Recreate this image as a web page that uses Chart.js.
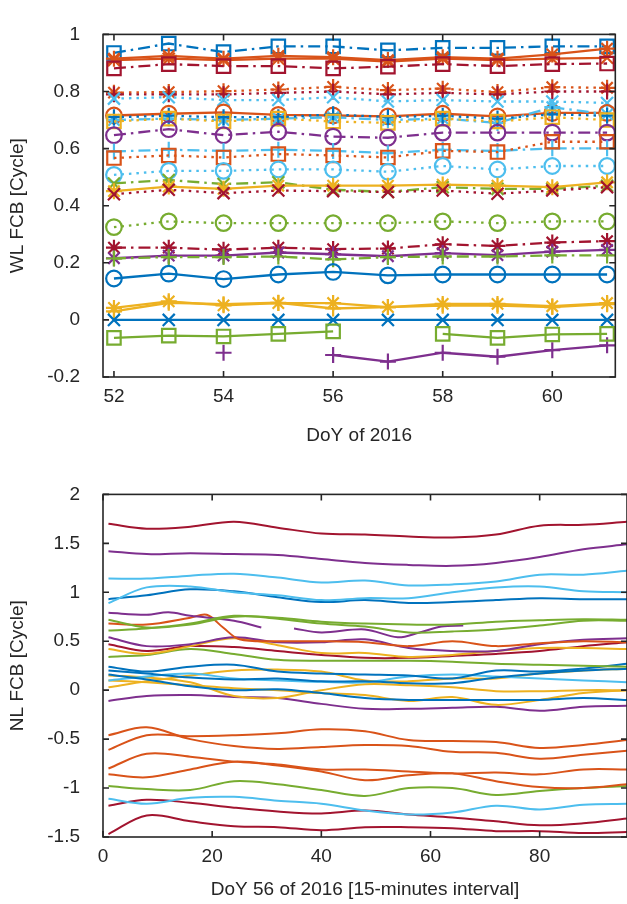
<!DOCTYPE html>
<html>
<head>
<meta charset="utf-8">
<script src="https://cdn.jsdelivr.net/npm/chart.js@4"></script>
<style>
body{margin:0;background:#fff;}
#wrap{position:relative;width:627px;height:904px;}
canvas{position:absolute;left:0;}
</style>
</head>
<body>
<div id="wrap">
<canvas id="wl" width="627" height="460" style="top:0"></canvas>
<canvas id="nl" width="627" height="444" style="top:460px"></canvas>
</div>
<script>
// ---- top plot: wide-lane FCB, one value per day ----
const doy = [52,53,54,55,56,57,58,59,60,61];
const wlTicksX = [52,54,56,58,60];
const wlTicksY = [-0.2,0,0.2,0.4,0.6,0.8,1];

const wlBlueSq    = [0.935,0.968,0.938,0.958,0.958,0.944,0.953,0.953,0.958,0.958];
const wlOrangeStar= [0.915,0.925,0.915,0.925,0.92,0.91,0.92,0.915,0.93,0.95];
const wlOrangeX   = [0.91,0.915,0.91,0.915,0.915,0.905,0.915,0.91,0.915,0.918];
const wlRedSq     = [0.881,0.896,0.889,0.889,0.881,0.887,0.896,0.889,0.896,0.898];
const wlOrangeStarDot = [0.796,0.798,0.801,0.807,0.816,0.805,0.81,0.798,0.815,0.813];
const wlRedPlus   = [0.79,0.79,0.79,0.795,0.8,0.79,0.795,0.79,0.8,0.8];
const wlCyanX     = [0.775,0.78,0.77,0.77,0.78,0.765,0.77,0.765,0.765,0.76];
const wlOrangeO   = [0.716,0.722,0.727,0.718,0.716,0.713,0.722,0.713,0.725,0.725];
const wlBluePlus  = [0.71,0.715,0.71,0.71,0.72,0.71,0.715,0.705,0.72,0.715];
const wlYellowSq  = [0.695,0.705,0.695,0.705,0.695,0.69,0.705,0.695,0.71,0.7];
const wlCyanStar  = [0.70,0.705,0.70,0.705,0.71,0.70,0.705,0.69,0.745,0.72];
const wlPurpleO   = [0.647,0.668,0.647,0.659,0.642,0.638,0.656,0.656,0.656,0.656];
const wlCyanPlus  = [0.59,0.596,0.592,0.596,0.592,0.584,0.596,0.592,0.601,0.601];
const wlOrangeSq  = [0.567,0.576,0.569,0.581,0.576,0.569,0.592,0.588,0.624,0.624];
const wlCyanO     = [0.508,0.522,0.522,0.527,0.527,0.519,0.539,0.527,0.539,0.539];
const wlGreenX    = [0.478,0.49,0.476,0.482,0.456,0.448,0.465,0.459,0.459,0.47];
const wlYellowStar= [0.451,0.467,0.459,0.47,0.47,0.47,0.474,0.47,0.465,0.482];
const wlRedX      = [0.44,0.456,0.444,0.453,0.451,0.448,0.453,0.442,0.453,0.465];
const wlGreenO    = [0.325,0.345,0.339,0.339,0.339,0.339,0.345,0.339,0.345,0.345];
const wlRedStar   = [0.253,0.253,0.246,0.253,0.248,0.25,0.265,0.259,0.271,0.276];
const wlPurpleStar= [0.216,0.225,0.225,0.236,0.23,0.223,0.234,0.227,0.239,0.245];
const wlGreenPlus = [0.215,0.22,0.22,0.222,0.212,0.22,0.222,0.222,0.226,0.226];
const wlBlueO     = [0.145,0.162,0.143,0.159,0.168,0.156,0.159,0.159,0.159,0.159];
const wlYellowStar2=[0.042,0.065,0.051,0.059,0.059,0.045,0.056,0.056,0.048,0.059];
const wlYellowPlus= [0.03,0.06,0.055,0.06,0.04,0.045,0.05,0.05,0.045,0.055];
const wlBlueX     = [0,0,0,0,0,0,0,0,0,0];
const wlGreenSq   = [-0.063,-0.055,-0.058,-0.049,-0.04,null,-0.049,-0.063,-0.051,-0.049];
const wlPurplePlus= [null,null,-0.115,null,-0.123,-0.146,-0.115,-0.129,-0.106,-0.089];

// ---- bottom plot: narrow-lane FCB, 15 minute epochs ----
const epoch = [1,8,16,24,32,40,48,56,64,72,80,88,96];
const epochDrop = [1,8,16,19,22,25,32,40,48,56,64,72,80,88,96];
const epochGap = [1,8,12,16,24,29,32,35,40,48,54,58,62,66];
const nlTicksX = [0,20,40,60,80];
const nlTicksY = [-1.5,-1,-0.5,0,0.5,1,1.5,2];

const nlRed1    = [1.70,1.65,1.67,1.72,1.66,1.60,1.59,1.57,1.56,1.59,1.68,1.69,1.72];
const nlPurple1 = [1.42,1.39,1.40,1.39,1.38,1.34,1.30,1.28,1.27,1.30,1.36,1.44,1.49];
const nlCyan1   = [1.14,1.14,1.17,1.19,1.15,1.10,1.12,1.07,1.08,1.11,1.18,1.18,1.22];
const nlCyan2   = [0.89,1.05,1.06,1.00,0.97,0.92,0.94,0.94,1.00,1.05,1.06,1.01,1.00];
const nlBlue1   = [0.93,0.97,1.03,1.01,0.95,0.90,0.92,0.89,0.90,0.92,0.94,0.93,0.93];
const nlGreenA  = [0.72,0.64,0.67,0.75,0.74,0.70,0.68,0.67,0.67,0.70,0.715,0.725,0.72];
const nlGreenB  = [0.61,0.63,0.68,0.76,0.73,0.68,0.65,0.59,0.60,0.62,0.66,0.71,0.71];
const nlPurpleGap = [0.79,0.77,0.795,0.76,0.71,0.64,null,0.63,0.59,0.62,0.54,0.59,0.65,0.66];
const nlOrangeDrop = [0.68,0.67,0.74,0.77,0.64,0.52,0.50,0.50,0.49,0.45,0.50,0.45,0.48,0.50,0.49];
const nlPurple2 = [0.54,0.45,0.47,0.54,0.49,0.49,0.52,0.43,0.40,0.40,0.47,0.515,0.53];
const nlYellow1 = [0.42,0.37,0.45,0.53,0.46,0.38,0.38,0.34,0.36,0.40,0.43,0.43,0.42];
const nlRed2    = [0.47,0.40,0.45,0.44,0.40,0.36,0.33,0.33,0.35,0.37,0.40,0.45,0.49];
const nlGreenC  = [0.34,0.36,0.42,0.37,0.31,0.30,0.30,0.30,0.29,0.27,0.26,0.25,0.24];
const nlBlue2   = [0.24,0.19,0.24,0.26,0.19,0.17,0.16,0.15,0.12,0.20,0.19,0.22,0.27];
const nlBlue3   = [0.20,0.17,0.13,0.11,0.12,0.09,0.09,0.07,0.07,0.13,0.17,0.20,0.22];
const nlBlue4   = [0.16,0.11,0.04,0.00,0.01,-0.03,-0.08,-0.10,-0.10,-0.10,-0.10,-0.08,-0.10];
const nlCyan3   = [0.10,0.14,0.17,0.12,0.10,0.085,0.08,0.14,0.16,0.14,0.12,0.10,0.08];
const nlYellow2 = [0.03,0.09,0.15,0.20,0.21,0.19,0.10,0.09,0.12,0.12,0.17,0.20,0.22];
const nlYellow3 = [0.15,0.13,0.08,-0.06,-0.08,0.00,0.06,0.05,0.03,-0.01,-0.01,0.00,0.00];
const nlYellow4 = [0.10,0.08,0.05,0.02,0.00,-0.03,-0.05,-0.11,-0.07,-0.15,-0.10,-0.03,0.00];
const nlPurple3 = [-0.11,-0.06,-0.05,-0.07,-0.08,-0.14,-0.19,-0.19,-0.18,-0.17,-0.21,-0.17,-0.16];
const nlOrangeA = [-0.46,-0.38,-0.50,-0.57,-0.60,-0.58,-0.56,-0.57,-0.63,-0.64,-0.70,-0.66,-0.62];
const nlOrangeB = [-0.61,-0.46,-0.47,-0.46,-0.44,-0.40,-0.42,-0.51,-0.52,-0.53,-0.59,-0.56,-0.51];
const nlOrangeC = [-0.80,-0.65,-0.68,-0.73,-0.76,-0.81,-0.81,-0.83,-0.85,-0.84,-0.86,-0.81,-0.81];
const nlOrangeD = [-0.86,-0.89,-0.81,-0.73,-0.77,-0.83,-0.92,-0.87,-0.85,-0.93,-0.99,-1.00,-0.96];
const nlGreenD  = [-0.98,-1.01,-1.02,-0.93,-0.96,-1.02,-1.08,-1.00,-1.00,-1.07,-1.03,-1.00,-0.98];
const nlCyan4   = [-1.11,-1.16,-1.10,-1.09,-1.13,-1.16,-1.23,-1.27,-1.25,-1.18,-1.22,-1.17,-1.16];
const nlRed3    = [-1.18,-1.12,-1.15,-1.20,-1.24,-1.26,-1.23,-1.27,-1.30,-1.34,-1.38,-1.36,-1.31];
const nlRed4    = [-1.47,-1.28,-1.34,-1.39,-1.40,-1.43,-1.40,-1.40,-1.41,-1.44,-1.44,-1.46,-1.45];

// matlab colours
const blue='#0072BD', orange='#D95319', yellow='#EDB120', purple='#7E2F8E',
      green='#77AC30', cyan='#4DBEEE', red='#A2142F';
const SOLID=[], DOT=[2.5,5], DASHDOT=[12,5,2.5,5];
const radius = {rect:9.5, circle:7.8, cross:8, crossRot:8.5, star:8};
const ink = '#262626';
const font = {family:'"Liberation Sans", Arial, Helvetica, sans-serif', size:19};

// [values, colour, marker, dash]
const wlStyle = [
  [wlGreenSq, green,'rect',SOLID],
  [wlPurplePlus, purple,'cross',SOLID],
  [wlBlueX, blue,'crossRot',SOLID],
  [wlYellowPlus, yellow,'cross',SOLID],
  [wlYellowStar2, yellow,'star',SOLID],
  [wlBlueO, blue,'circle',SOLID],
  [wlGreenPlus, green,'cross',DASHDOT],
  [wlPurpleStar, purple,'star',SOLID],
  [wlRedStar, red,'star',DASHDOT],
  [wlGreenO, green,'circle',DOT],
  [wlRedX, red,'crossRot',DOT],
  [wlYellowStar, yellow,'star',SOLID],
  [wlGreenX, green,'crossRot',DASHDOT],
  [wlCyanO, cyan,'circle',DOT],
  [wlOrangeSq, orange,'rect',DOT],
  [wlCyanPlus, cyan,'cross',DASHDOT],
  [wlPurpleO, purple,'circle',DASHDOT],
  [wlYellowSq, yellow,'rect',DOT],
  [wlBluePlus, blue,'cross',DOT],
  [wlCyanStar, cyan,'star',DASHDOT],
  [wlOrangeO, orange,'circle',SOLID],
  [wlCyanX, cyan,'crossRot',DOT],
  [wlRedPlus, red,'cross',DOT],
  [wlOrangeStarDot, orange,'star',DOT],
  [wlRedSq, red,'rect',DASHDOT],
  [wlOrangeX, orange,'crossRot',SOLID],
  [wlOrangeStar, orange,'star',SOLID],
  [wlBlueSq, blue,'rect',DASHDOT]
];

// [x values, y values, colour]
const nlStyle = [
  [epoch,nlRed1,red],[epoch,nlPurple1,purple],[epoch,nlCyan1,cyan],[epoch,nlCyan2,cyan],
  [epoch,nlBlue1,blue],[epoch,nlGreenA,green],[epoch,nlGreenB,green],[epochGap,nlPurpleGap,purple],
  [epochDrop,nlOrangeDrop,orange],[epoch,nlPurple2,purple],[epoch,nlYellow1,yellow],[epoch,nlRed2,red],
  [epoch,nlGreenC,green],[epoch,nlBlue2,blue],[epoch,nlBlue3,blue],[epoch,nlBlue4,blue],
  [epoch,nlCyan3,cyan],[epoch,nlYellow2,yellow],[epoch,nlYellow3,yellow],[epoch,nlYellow4,yellow],
  [epoch,nlPurple3,purple],[epoch,nlOrangeA,orange],[epoch,nlOrangeB,orange],[epoch,nlOrangeC,orange],
  [epoch,nlOrangeD,orange],[epoch,nlGreenD,green],[epoch,nlCyan4,cyan],[epoch,nlRed3,red],[epoch,nlRed4,red]
];

// box + inward ticks on all four sides
const frame = {
  id:'frame',
  afterDatasetsDraw(chart){
    const {ctx, chartArea:a, scales:{x,y}} = chart;
    ctx.save();
    ctx.strokeStyle = ink;
    ctx.lineWidth = 1.6;
    ctx.strokeRect(a.left, a.top, a.right-a.left, a.bottom-a.top);
    ctx.beginPath();
    x.ticks.forEach(t=>{
      const p = x.getPixelForValue(t.value);
      ctx.moveTo(p,a.bottom); ctx.lineTo(p,a.bottom-6);
      ctx.moveTo(p,a.top); ctx.lineTo(p,a.top+6);
    });
    y.ticks.forEach(t=>{
      const p = y.getPixelForValue(t.value);
      ctx.moveTo(a.left,p); ctx.lineTo(a.left+6,p);
      ctx.moveTo(a.right,p); ctx.lineTo(a.right-6,p);
    });
    ctx.stroke();
    ctx.restore();
  }
};

function axes(xr, yr, xt, yt, xTitle, yTitle, xHeight, xPad){
  return {
    x:{type:'linear', min:xr[0], max:xr[1],
       grid:{display:false, drawTicks:false}, border:{display:false},
       afterBuildTicks:s=>{ s.ticks = xt.map(v=>({value:v})); },
       afterFit:s=>{ s.height = xHeight; },
       ticks:{padding:8, color:ink, font, maxRotation:0, callback:v=>String(v)},
       title:{display:true, text:xTitle, color:ink, font, padding:{top:0,bottom:xPad}}},
    y:{type:'linear', min:yr[0], max:yr[1],
       grid:{display:false, drawTicks:false}, border:{display:false},
       afterBuildTicks:s=>{ s.ticks = yt.map(v=>({value:v})); },
       afterFit:s=>{ s.width = 103; },
       ticks:{padding:23, color:ink, font, callback:v=>String(+(+v).toFixed(2))},
       title:{display:true, text:yTitle, color:ink, font, padding:{top:6.6,bottom:0}}}
  };
}

const common = {
  responsive:false, animation:false, devicePixelRatio:1,
  plugins:{legend:{display:false}, tooltip:{enabled:false}},
  elements:{line:{tension:0}}
};

new Chart(document.getElementById('wl'), {
  type:'line',
  data:{datasets: wlStyle.map(([vals,c,mk,dash])=>({
    data: doy.map((d,i)=>({x:d, y:vals[i]})),
    borderColor:c, borderWidth:2.3, borderDash:dash,
    pointStyle:mk, pointRadius:radius[mk], pointBorderWidth:2.2,
    pointBorderColor:c, pointBackgroundColor:'rgba(0,0,0,0)',
    spanGaps:false, fill:false
  }))},
  options:Object.assign({}, common, {
    layout:{padding:{top:27, right:2, left:0, bottom:0}},
    scales: axes([51.8,61.15],[-0.2,1], wlTicksX, wlTicksY, 'DoY of 2016', 'WL FCB [Cycle]', 83, 12.6)
  }),
  plugins:[frame]
});

new Chart(document.getElementById('nl'), {
  type:'line',
  data:{datasets: nlStyle.map(([xs,vals,c])=>({
    data: xs.map((t,i)=>({x:t, y:vals[i]})),
    borderColor:c, borderWidth:2, pointRadius:0,
    tension:0.35, spanGaps:false, fill:false
  }))},
  options:Object.assign({}, common, {
    layout:{padding:{top:27, right:0, left:0, bottom:0}},
    scales: axes([0,96],[-1.5,2], nlTicksX, nlTicksY, 'DoY 56 of 2016 [15-minutes interval]', 'NL FCB [Cycle]', 67, 2.6)
  }),
  plugins:[frame]
});
</script>
</body>
</html>
